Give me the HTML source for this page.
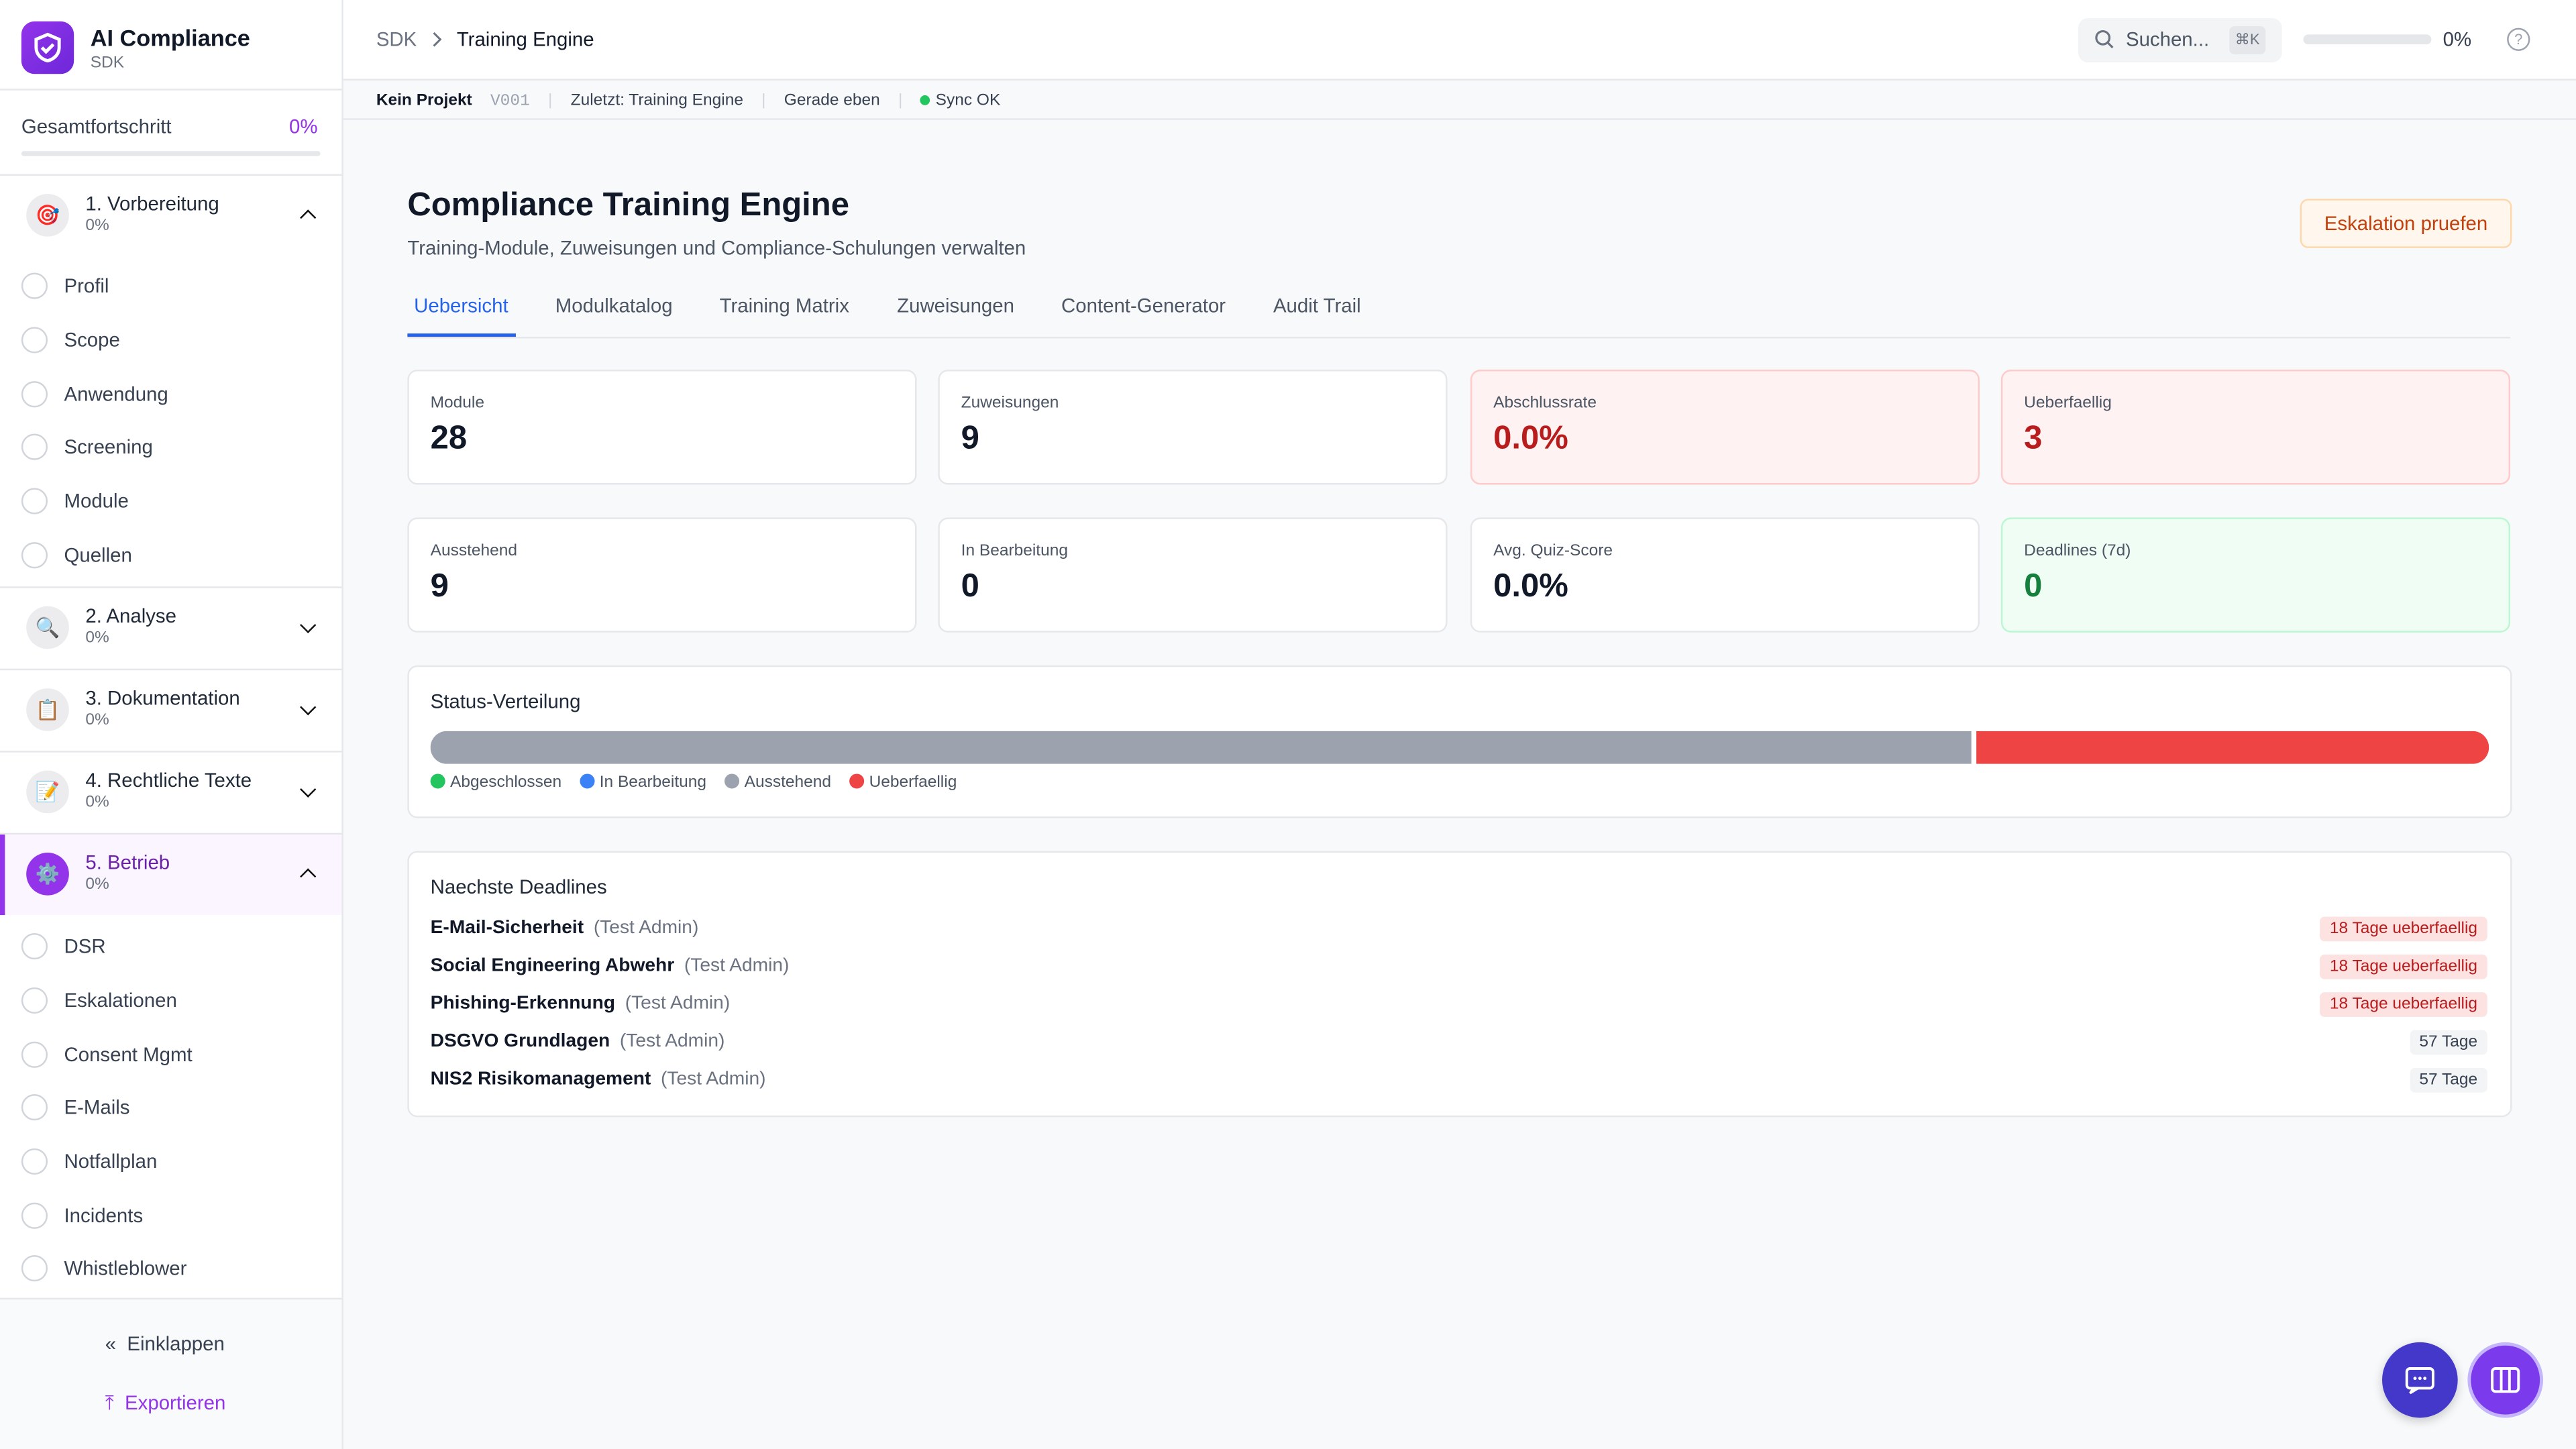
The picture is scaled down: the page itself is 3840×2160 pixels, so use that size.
<!DOCTYPE html>
<html><head><meta charset="utf-8"><style>
*{box-sizing:border-box;margin:0;padding:0}
html,body{width:3840px;height:2160px;overflow:hidden;background:#f8f9fb;font-family:"Liberation Sans",sans-serif}
#w{position:absolute;left:0;top:0;width:1568px;height:882px;transform:scale(2.44898);transform-origin:0 0;background:#f8f9fb;color:#111827}
.a{position:absolute}
.sb{left:0;top:0;width:209px;height:882px;background:#fff;border-right:1px solid #e5e7eb}
.hr{height:1px;background:#e5e7eb;left:0;width:208px}
.it{left:13px;font-size:12px;color:#374151}
.it i{position:absolute;left:0;top:-1px;width:16px;height:16px;border:1.5px solid #d1d5db;border-radius:50%}
.it span{position:absolute;left:26px;top:0;white-space:nowrap}
.sec{left:0;width:208px;height:49px}
.sec .ic{position:absolute;left:16px;top:11px;width:26px;height:26px;border-radius:50%;background:#ececef;font-size:12px;text-align:center;line-height:26px}
.sec .t{position:absolute;left:52px;top:10px;font-size:12px;color:#1f2937}
.sec .p{position:absolute;left:52px;top:25px;font-size:10px;color:#6b7280}
.sec .c{position:absolute;left:184px;top:19px;width:7px;height:7px;border-left:1.5px solid #111;border-bottom:1.5px solid #111}
.card{background:#fff;border:1px solid #e5e7eb;border-radius:6px;width:310px;height:70px}
.card .l{position:absolute;left:13px;top:14px;font-size:10px;color:#4b5563}
.card .v{position:absolute;left:13px;top:30px;font-size:20px;font-weight:bold;color:#111827}
.dl{left:262px;font-size:11.5px;color:#111827}
.dl b{font-weight:bold}.dl span{color:#6b7280;margin-left:6px}
.bd{right:54px;font-size:10px;padding:2px 6px;border-radius:3px}
.red{background:#fde2e2;color:#b91c1c}.gr{background:#f3f4f6;color:#374151}
.dot{display:inline-block;width:9px;height:9px;border-radius:50%;vertical-align:-1px;margin-right:3px}
</style></head><body><div id="w">
<div class="a sb"></div>
<div class="a" style="left:13px;top:13px;width:32px;height:32px;border-radius:8px;background:linear-gradient(135deg,#9333ea,#6d28d9)"><svg width="32" height="32" viewBox="0 0 32 32"><path d="M16 8l7 3v5c0 4-3 7-7 8-4-1-7-4-7-8v-5z" fill="none" stroke="#fff" stroke-width="2"/><path d="M12.5 16l2.5 2.5 4.5-4.5" fill="none" stroke="#fff" stroke-width="2"/></svg></div>
<div class="a" style="left:55px;top:15px;font-size:14px;font-weight:bold">AI Compliance</div>
<div class="a" style="left:55px;top:33px;font-size:10px;color:#6b7280">SDK</div>
<div class="a hr" style="top:54px"></div>
<div class="a" style="left:13px;top:70px;font-size:12px;color:#374151">Gesamtfortschritt</div>
<div class="a" style="left:176px;top:70px;font-size:12px;color:#9333ea">0%</div>
<div class="a" style="left:13px;top:92px;width:182px;height:3px;background:#e5e7eb;border-radius:2px"></div>
<div class="a hr" style="top:106px"></div>
<div class="a sec" style="top:107px"><div class="ic">🎯</div><div class="t">1. Vorbereitung</div><div class="p">0%</div><div class="c" style="transform:rotate(135deg);top:22px"></div></div>
<div class="a it" style="top:167px"><i></i><span>Profil</span></div>
<div class="a it" style="top:200px"><i></i><span>Scope</span></div>
<div class="a it" style="top:233px"><i></i><span>Anwendung</span></div>
<div class="a it" style="top:265px"><i></i><span>Screening</span></div>
<div class="a it" style="top:298px"><i></i><span>Module</span></div>
<div class="a it" style="top:331px"><i></i><span>Quellen</span></div>
<div class="a hr" style="top:357px"></div>
<div class="a sec" style="top:358px"><div class="ic">🔍</div><div class="t">2. Analyse</div><div class="p">0%</div><div class="c" style="transform:rotate(-45deg)"></div></div>
<div class="a hr" style="top:407px"></div>
<div class="a sec" style="top:408px"><div class="ic">📋</div><div class="t">3. Dokumentation</div><div class="p">0%</div><div class="c" style="transform:rotate(-45deg)"></div></div>
<div class="a hr" style="top:457px"></div>
<div class="a sec" style="top:458px"><div class="ic">📝</div><div class="t">4. Rechtliche Texte</div><div class="p">0%</div><div class="c" style="transform:rotate(-45deg)"></div></div>
<div class="a hr" style="top:507px"></div>
<div class="a sec" style="top:508px;background:#faf5ff;border-left:3px solid #9333ea"><div class="ic" style="left:13px;background:#9333ea">⚙️</div><div class="t" style="left:49px;color:#6b21a8">5. Betrieb</div><div class="p" style="left:49px">0%</div><div class="c" style="transform:rotate(135deg);top:22px;left:181px"></div></div>
<div class="a it" style="top:569px"><i></i><span>DSR</span></div>
<div class="a it" style="top:602px"><i></i><span>Eskalationen</span></div>
<div class="a it" style="top:635px"><i></i><span>Consent Mgmt</span></div>
<div class="a it" style="top:667px"><i></i><span>E-Mails</span></div>
<div class="a it" style="top:700px"><i></i><span>Notfallplan</span></div>
<div class="a it" style="top:733px"><i></i><span>Incidents</span></div>
<div class="a it" style="top:765px"><i></i><span>Whistleblower</span></div>
<div class="a" style="left:0;top:790px;width:208px;height:92px;background:#f9fafb;border-top:1px solid #e5e7eb"></div>
<div class="a" style="left:64px;top:811px;font-size:12px;color:#374151">«&nbsp;&nbsp;Einklappen</div>
<div class="a" style="left:64px;top:847px;font-size:12px;color:#9333ea">⤒&nbsp;&nbsp;Exportieren</div>

<div class="a" style="left:209px;top:0;width:1359px;height:49px;background:#fff;border-bottom:1px solid #e5e7eb"></div>
<div class="a" style="left:229px;top:17px;font-size:12px;color:#6b7280">SDK</div>
<svg class="a" style="left:262px;top:19px" width="8" height="10"><path d="M2 1l4 4-4 4" fill="none" stroke="#6b7280" stroke-width="1.2"/></svg>
<div class="a" style="left:278px;top:17px;font-size:12px;color:#111827">Training Engine</div>
<div class="a" style="left:1265px;top:11px;width:124px;height:27px;background:#f3f4f6;border-radius:6px"></div>
<svg class="a" style="left:1275px;top:18px" width="12" height="12"><circle cx="5" cy="5" r="4" fill="none" stroke="#6b7280" stroke-width="1.3"/><path d="M8 8l3 3" stroke="#6b7280" stroke-width="1.3"/></svg>
<div class="a" style="left:1294px;top:17px;font-size:12px;color:#4b5563">Suchen...</div>
<div class="a" style="left:1357px;top:16px;width:22px;height:17px;background:#e5e7eb;border-radius:3px;font-size:9px;color:#6b7280;text-align:center;line-height:17px">⌘K</div>
<div class="a" style="left:1402px;top:21px;width:78px;height:6px;background:#e5e7eb;border-radius:3px"></div>
<div class="a" style="left:1487px;top:17px;font-size:12px;color:#374151">0%</div>
<div class="a" style="left:1526px;top:17px;width:14px;height:14px;border:1.3px solid #9ca3af;border-radius:50%;font-size:9px;color:#9ca3af;text-align:center;line-height:12px">?</div>
<div class="a" style="left:209px;top:49px;width:1359px;height:24px;background:#f8f9fb;border-bottom:1px solid #e5e7eb"></div>
<div class="a" style="left:229px;top:56px;font-size:10px;color:#374151;white-space:nowrap"><b style="color:#111827;font-weight:600">Kein Projekt</b>&nbsp;&nbsp;&nbsp;&nbsp;<span style="font-family:'Liberation Mono';color:#9ca3af">V001</span>&nbsp;&nbsp;&nbsp;&nbsp;<span style="color:#d1d5db">|</span>&nbsp;&nbsp;&nbsp;&nbsp;Zuletzt: Training Engine&nbsp;&nbsp;&nbsp;&nbsp;<span style="color:#d1d5db">|</span>&nbsp;&nbsp;&nbsp;&nbsp;Gerade eben&nbsp;&nbsp;&nbsp;&nbsp;<span style="color:#d1d5db">|</span>&nbsp;&nbsp;&nbsp;&nbsp;<span class="dot" style="background:#22c55e;width:6px;height:6px;vertical-align:0"></span>Sync OK</div>

<div class="a" style="left:248px;top:114px;font-size:20px;font-weight:bold;color:#111827">Compliance Training Engine</div>
<div class="a" style="left:248px;top:144px;font-size:12px;color:#4b5563">Training-Module, Zuweisungen und Compliance-Schulungen verwalten</div>
<div class="a" style="left:1400px;top:121px;width:129px;height:30px;background:#fff7ed;border:1px solid #fed7aa;border-radius:5px;font-size:12px;color:#c2410c;text-align:center;line-height:28px">Eskalation pruefen</div>
<div class="a" style="left:248px;top:205px;width:1280px;height:1px;background:#e5e7eb"></div>
<div class="a" style="left:248px;top:203px;width:66px;height:2px;background:#2563eb"></div>
<div class="a" style="left:252px;top:179px;font-size:12px;color:#2563eb">Uebersicht</div>
<div class="a" style="left:338px;top:179px;font-size:12px;color:#4b5563">Modulkatalog</div>
<div class="a" style="left:438px;top:179px;font-size:12px;color:#4b5563">Training Matrix</div>
<div class="a" style="left:546px;top:179px;font-size:12px;color:#4b5563">Zuweisungen</div>
<div class="a" style="left:646px;top:179px;font-size:12px;color:#4b5563">Content-Generator</div>
<div class="a" style="left:775px;top:179px;font-size:12px;color:#4b5563">Audit Trail</div>

<div class="a card" style="left:248px;top:225px"><div class="l">Module</div><div class="v">28</div></div>
<div class="a card" style="left:571px;top:225px"><div class="l">Zuweisungen</div><div class="v">9</div></div>
<div class="a card" style="left:895px;top:225px;background:#fef2f2;border-color:#fecaca"><div class="l">Abschlussrate</div><div class="v" style="color:#b91c1c">0.0%</div></div>
<div class="a card" style="left:1218px;top:225px;background:#fef2f2;border-color:#fecaca"><div class="l">Ueberfaellig</div><div class="v" style="color:#b91c1c">3</div></div>
<div class="a card" style="left:248px;top:315px"><div class="l">Ausstehend</div><div class="v">9</div></div>
<div class="a card" style="left:571px;top:315px"><div class="l">In Bearbeitung</div><div class="v">0</div></div>
<div class="a card" style="left:895px;top:315px"><div class="l">Avg. Quiz-Score</div><div class="v">0.0%</div></div>
<div class="a card" style="left:1218px;top:315px;background:#f0fdf4;border-color:#bbf7d0"><div class="l">Deadlines (7d)</div><div class="v" style="color:#15803d">0</div></div>

<div class="a" style="left:248px;top:405px;width:1281px;height:93px;background:#fff;border:1px solid #e5e7eb;border-radius:6px"></div>
<div class="a" style="left:262px;top:420px;font-size:12px;color:#1f2937">Status-Verteilung</div>
<div class="a" style="left:262px;top:445px;width:1253px;height:20px;border-radius:10px;overflow:hidden;display:flex"><div style="width:938px;background:#9ca3af"></div><div style="width:3px;background:#fff"></div><div style="flex:1;background:#ef4444"></div></div>
<div class="a" style="left:262px;top:471px;font-size:10px;color:#4b5563;white-space:nowrap"><span class="dot" style="background:#22c55e"></span>Abgeschlossen&nbsp;&nbsp;&nbsp;&nbsp;<span class="dot" style="background:#3b82f6"></span>In Bearbeitung&nbsp;&nbsp;&nbsp;&nbsp;<span class="dot" style="background:#9ca3af"></span>Ausstehend&nbsp;&nbsp;&nbsp;&nbsp;<span class="dot" style="background:#ef4444"></span>Ueberfaellig</div>

<div class="a" style="left:248px;top:518px;width:1281px;height:162px;background:#fff;border:1px solid #e5e7eb;border-radius:6px"></div>
<div class="a" style="left:262px;top:533px;font-size:12px;color:#1f2937">Naechste Deadlines</div>
<div class="a dl" style="top:559px"><b>E-Mail-Sicherheit</b><span>(Test Admin)</span></div>
<div class="a dl" style="top:582px"><b>Social Engineering Abwehr</b><span>(Test Admin)</span></div>
<div class="a dl" style="top:605px"><b>Phishing-Erkennung</b><span>(Test Admin)</span></div>
<div class="a dl" style="top:628px"><b>DSGVO Grundlagen</b><span>(Test Admin)</span></div>
<div class="a dl" style="top:651px"><b>NIS2 Risikomanagement</b><span>(Test Admin)</span></div>
<div class="a bd red" style="top:558px">18 Tage ueberfaellig</div>
<div class="a bd red" style="top:581px">18 Tage ueberfaellig</div>
<div class="a bd red" style="top:604px">18 Tage ueberfaellig</div>
<div class="a bd gr" style="top:627px">57 Tage</div>
<div class="a bd gr" style="top:650px">57 Tage</div>

<div class="a" style="left:1450px;top:817px;width:46px;height:46px;border-radius:50%;background:#4338ca;box-shadow:0 2px 6px rgba(0,0,0,.2)"><svg width="46" height="46"><rect x="15" y="16" width="16" height="12" rx="2" fill="none" stroke="#fff" stroke-width="1.6"/><path d="M19 28l-2 3 5-3" fill="none" stroke="#fff" stroke-width="1.4"/><circle cx="20" cy="22" r="1" fill="#fff"/><circle cx="23" cy="22" r="1" fill="#fff"/><circle cx="26" cy="22" r="1" fill="#fff"/></svg></div>
<div class="a" style="left:1502px;top:817px;width:46px;height:46px;border-radius:50%;background:#7c3aed;border:2px solid #c4b5fd"><svg width="42" height="42"><rect x="13" y="14" width="16" height="14" rx="2" fill="none" stroke="#fff" stroke-width="1.6"/><path d="M18.5 14v14M23.5 14v14" stroke="#fff" stroke-width="1.6"/></svg></div>
</div></body></html>
